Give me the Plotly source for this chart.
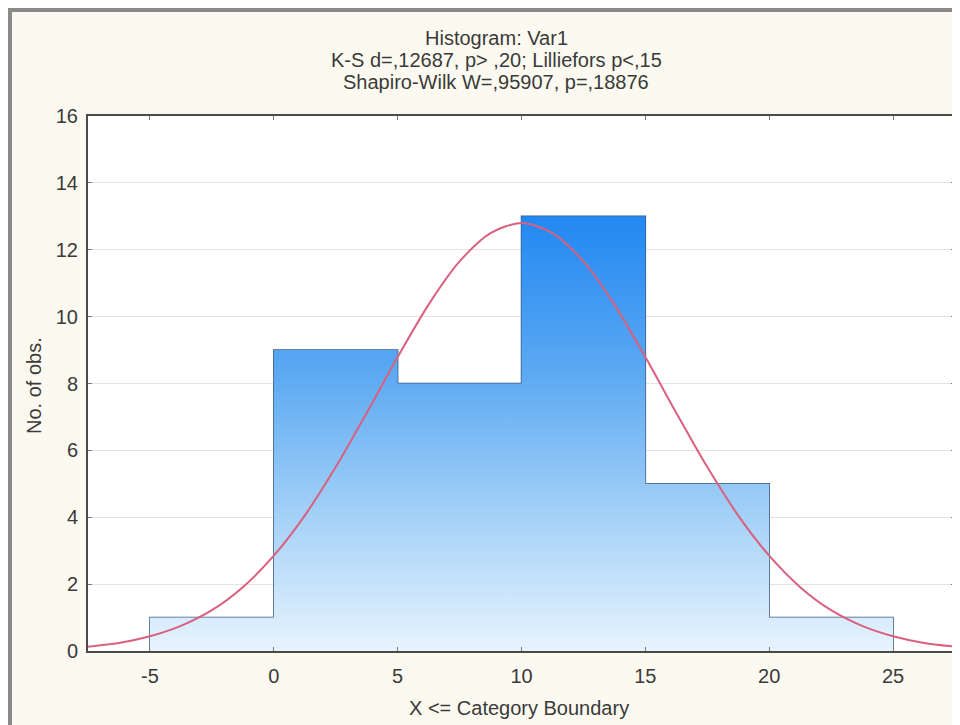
import plotly.graph_objects as go

# ---- data ----
bin_left = [-5, 0, 5, 10, 15, 20]
bin_width = 5
counts = [1, 9, 8, 13, 5, 1]

# expected-normal curve, values
curve_x = [-7.5, -6.25, -5, -3.75, -2.5, -1.25, 0, 1.25, 2.5, 3.75, 5, 6.25, 7.5, 8.75, 10,
           11.25, 12.5, 13.75, 15, 16.25, 17.5, 18.75, 20, 21.25, 22.5, 23.75, 25, 26.25, 27.5]
curve_y = [0.13, 0.24, 0.44, 0.75, 1.22, 1.91, 2.85, 4.05, 5.50, 7.12, 8.79, 10.36, 11.65, 12.50, 12.8,
           12.50, 11.65, 10.36, 8.79, 7.12, 5.50, 4.05, 2.85, 1.91, 1.22, 0.75, 0.44, 0.24, 0.13]

x_ticks = [-5, 0, 5, 10, 15, 20, 25]
y_ticks = [0, 2, 4, 6, 8, 10, 12, 14, 16]

title_lines = [
    "Histogram: Var1",
    "K-S d=,12687, p> ,20; Lilliefors p<,15",
    "Shapiro-Wilk W=,95907, p=,18876",
]
x_title = "X <= Category Boundary"
y_title = "No. of obs."

FONT = "Liberation Sans, Arial, sans-serif"
TXT = "#3a3a3a"
FS = 20

# the page body has an 8px margin; figure placed at screen (8, 8)
OFF = 8
W, H = 960 - OFF, 725 - OFF
L, R, T, B = 88 - OFF, 5, 116 - OFF, 74
PW, PH = W - L - R, H - T - B


def px(xs):
    """screen x -> paper x"""
    return (xs - OFF - L) / PW


def py(ys):
    """screen y -> paper y"""
    return (H - B - (ys - OFF)) / PH


centers = [l + bin_width / 2 for l in bin_left]
step_x = bin_left + [bin_left[-1] + bin_width]
step_y = counts + [counts[-1]]

fig = go.Figure()

# gradient fill of the histogram (absolute vertical gradient)
fig.add_trace(go.Scatter(
    x=step_x, y=step_y, mode="lines", line=dict(width=0, shape="hv"),
    fill="tozeroy",
    fillgradient=dict(type="vertical", start=0, stop=13,
                      colorscale=[[0, "#e8f4fe"], [0.31, "#a4d1f7"],
                                  [0.65, "#5aa8f2"], [1, "#2288f2"]]),
    hoverinfo="skip", showlegend=False,
))

# bar outlines
fig.add_trace(go.Bar(
    x=centers, y=counts, width=bin_width,
    marker=dict(color="rgba(0,0,0,0)", line=dict(color="#3a5a85", width=1.5)),
    showlegend=False,
))

# normal curve
fig.add_trace(go.Scatter(
    x=curve_x, y=curve_y, mode="lines",
    line=dict(color="#d9607f", width=2, shape="spline", smoothing=0.8),
    showlegend=False,
))

annotations = []
for txt, yc in zip(title_lines, [38, 60, 82]):
    annotations.append(dict(text=txt, x=px(496), y=py(yc), xref="paper", yref="paper",
                            xanchor="center", yanchor="middle", showarrow=False,
                            font=dict(family=FONT, size=FS, color=TXT)))
annotations.append(dict(text=x_title, x=px(519), y=py(708), xref="paper", yref="paper",
                        xanchor="center", yanchor="middle", showarrow=False,
                        font=dict(family=FONT, size=FS, color=TXT)))
annotations.append(dict(text=y_title, x=px(34), y=py(386), xref="paper", yref="paper",
                        xanchor="center", yanchor="middle", showarrow=False, textangle=-90,
                        font=dict(family=FONT, size=FS, color=TXT)))

shapes = [
    # grey frame lines (left and top)
    dict(type="line", xref="paper", yref="paper", x0=px(10), x1=px(10), y0=py(8), y1=py(730),
         line=dict(color="#8a8a8a", width=4)),
    dict(type="line", xref="paper", yref="paper", x0=px(8), x1=px(965), y0=py(10), y1=py(10),
         line=dict(color="#8a8a8a", width=4)),
]

fig.update_layout(
    width=W, height=H,
    margin=dict(l=L, r=R, t=T, b=B, autoexpand=False),
    paper_bgcolor="#fcfaf0", plot_bgcolor="white",
    barmode="overlay", showlegend=False,
    annotations=annotations, shapes=shapes,
    font=dict(family=FONT, size=FS, color=TXT),
)
fig.update_xaxes(
    range=[-7.5, 27.5], tickvals=x_ticks, ticktext=[str(v) for v in x_ticks],
    showgrid=False, zeroline=False,
    showline=True, linecolor="#4a4a4a", linewidth=2, mirror="ticks",
    ticks="inside", ticklen=4, tickcolor="#777", ticklabelstandoff=6,
    tickfont=dict(family=FONT, size=FS, color=TXT),
)
fig.update_yaxes(
    range=[0, 16], tickvals=y_ticks, ticktext=[str(v) for v in y_ticks],
    showgrid=True, gridcolor="#e3e3e3", gridwidth=1, zeroline=False,
    showline=True, linecolor="#4a4a4a", linewidth=2, mirror="ticks",
    ticks="inside", ticklen=4, tickcolor="#777", ticklabelstandoff=4,
    tickfont=dict(family=FONT, size=FS, color=TXT),
)

fig.write_html("out.html")
